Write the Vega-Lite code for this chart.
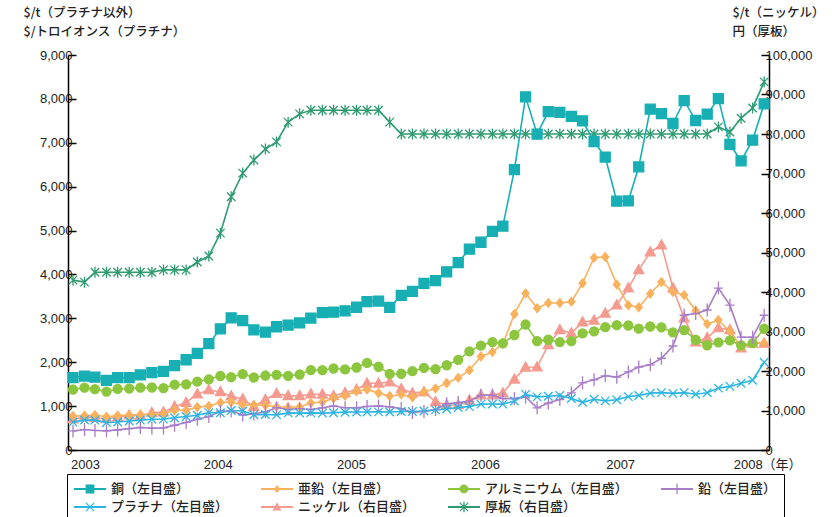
{
  "$schema": "https://vega.github.io/schema/vega-lite/v6.json",
  "width": 701,
  "height": 395,
  "autosize": {"type": "none"},
  "padding": {"left": 68, "top": 55, "right": 63, "bottom": 67},
  "background": "white",
  "config": {
    "font": "Liberation Sans, Noto Sans CJK JP",
    "view": {"stroke": null},
    "axis": {"grid": false}
  },
  "datasets": {
    "prices": [
      {"date":"2003-01-01","series":"銅（左目盛）","value":1648},{"date":"2003-02-01","series":"銅（左目盛）","value":1683},{"date":"2003-03-01","series":"銅（左目盛）","value":1660},{"date":"2003-04-01","series":"銅（左目盛）","value":1587},{"date":"2003-05-01","series":"銅（左目盛）","value":1647},{"date":"2003-06-01","series":"銅（左目盛）","value":1650},{"date":"2003-07-01","series":"銅（左目盛）","value":1713},{"date":"2003-08-01","series":"銅（左目盛）","value":1762},{"date":"2003-09-01","series":"銅（左目盛）","value":1792},{"date":"2003-10-01","series":"銅（左目盛）","value":1924},{"date":"2003-11-01","series":"銅（左目盛）","value":2056},{"date":"2003-12-01","series":"銅（左目盛）","value":2201},
      {"date":"2004-01-01","series":"銅（左目盛）","value":2423},{"date":"2004-02-01","series":"銅（左目盛）","value":2760},{"date":"2004-03-01","series":"銅（左目盛）","value":3010},{"date":"2004-04-01","series":"銅（左目盛）","value":2949},{"date":"2004-05-01","series":"銅（左目盛）","value":2737},{"date":"2004-06-01","series":"銅（左目盛）","value":2686},{"date":"2004-07-01","series":"銅（左目盛）","value":2808},{"date":"2004-08-01","series":"銅（左目盛）","value":2846},{"date":"2004-09-01","series":"銅（左目盛）","value":2895},{"date":"2004-10-01","series":"銅（左目盛）","value":3006},{"date":"2004-11-01","series":"銅（左目盛）","value":3129},{"date":"2004-12-01","series":"銅（左目盛）","value":3142},
      {"date":"2005-01-01","series":"銅（左目盛）","value":3170},{"date":"2005-02-01","series":"銅（左目盛）","value":3253},{"date":"2005-03-01","series":"銅（左目盛）","value":3379},{"date":"2005-04-01","series":"銅（左目盛）","value":3394},{"date":"2005-05-01","series":"銅（左目盛）","value":3249},{"date":"2005-06-01","series":"銅（左目盛）","value":3524},{"date":"2005-07-01","series":"銅（左目盛）","value":3614},{"date":"2005-08-01","series":"銅（左目盛）","value":3797},{"date":"2005-09-01","series":"銅（左目盛）","value":3857},{"date":"2005-10-01","series":"銅（左目盛）","value":4060},{"date":"2005-11-01","series":"銅（左目盛）","value":4270},{"date":"2005-12-01","series":"銅（左目盛）","value":4577},
      {"date":"2006-01-01","series":"銅（左目盛）","value":4734},{"date":"2006-02-01","series":"銅（左目盛）","value":4982},{"date":"2006-03-01","series":"銅（左目盛）","value":5102},{"date":"2006-04-01","series":"銅（左目盛）","value":6387},{"date":"2006-05-01","series":"銅（左目盛）","value":8046},{"date":"2006-06-01","series":"銅（左目盛）","value":7197},{"date":"2006-07-01","series":"銅（左目盛）","value":7711},{"date":"2006-08-01","series":"銅（左目盛）","value":7695},{"date":"2006-09-01","series":"銅（左目盛）","value":7602},{"date":"2006-10-01","series":"銅（左目盛）","value":7500},{"date":"2006-11-01","series":"銅（左目盛）","value":7029},{"date":"2006-12-01","series":"銅（左目盛）","value":6675},
      {"date":"2007-01-01","series":"銅（左目盛）","value":5670},{"date":"2007-02-01","series":"銅（左目盛）","value":5676},{"date":"2007-03-01","series":"銅（左目盛）","value":6452},{"date":"2007-04-01","series":"銅（左目盛）","value":7766},{"date":"2007-05-01","series":"銅（左目盛）","value":7662},{"date":"2007-06-01","series":"銅（左目盛）","value":7439},{"date":"2007-07-01","series":"銅（左目盛）","value":7959},{"date":"2007-08-01","series":"銅（左目盛）","value":7508},{"date":"2007-09-01","series":"銅（左目盛）","value":7653},{"date":"2007-10-01","series":"銅（左目盛）","value":8008},{"date":"2007-11-01","series":"銅（左目盛）","value":6965},{"date":"2007-12-01","series":"銅（左目盛）","value":6588},
      {"date":"2008-01-01","series":"銅（左目盛）","value":7061},{"date":"2008-02-01","series":"銅（左目盛）","value":7888},

      {"date":"2003-01-01","series":"亜鉛（左目盛）","value":777},{"date":"2003-02-01","series":"亜鉛（左目盛）","value":783},{"date":"2003-03-01","series":"亜鉛（左目盛）","value":795},{"date":"2003-04-01","series":"亜鉛（左目盛）","value":759},{"date":"2003-05-01","series":"亜鉛（左目盛）","value":784},{"date":"2003-06-01","series":"亜鉛（左目盛）","value":797},{"date":"2003-07-01","series":"亜鉛（左目盛）","value":809},{"date":"2003-08-01","series":"亜鉛（左目盛）","value":805},{"date":"2003-09-01","series":"亜鉛（左目盛）","value":827},{"date":"2003-10-01","series":"亜鉛（左目盛）","value":903},{"date":"2003-11-01","series":"亜鉛（左目盛）","value":907},{"date":"2003-12-01","series":"亜鉛（左目盛）","value":977},
      {"date":"2004-01-01","series":"亜鉛（左目盛）","value":1004},{"date":"2004-02-01","series":"亜鉛（左目盛）","value":1082},{"date":"2004-03-01","series":"亜鉛（左目盛）","value":1094},{"date":"2004-04-01","series":"亜鉛（左目盛）","value":1029},{"date":"2004-05-01","series":"亜鉛（左目盛）","value":1028},{"date":"2004-06-01","series":"亜鉛（左目盛）","value":1018},{"date":"2004-07-01","series":"亜鉛（左目盛）","value":985},{"date":"2004-08-01","series":"亜鉛（左目盛）","value":973},{"date":"2004-09-01","series":"亜鉛（左目盛）","value":982},{"date":"2004-10-01","series":"亜鉛（左目盛）","value":1070},{"date":"2004-11-01","series":"亜鉛（左目盛）","value":1095},{"date":"2004-12-01","series":"亜鉛（左目盛）","value":1180},
      {"date":"2005-01-01","series":"亜鉛（左目盛）","value":1236},{"date":"2005-02-01","series":"亜鉛（左目盛）","value":1338},{"date":"2005-03-01","series":"亜鉛（左目盛）","value":1380},{"date":"2005-04-01","series":"亜鉛（左目盛）","value":1296},{"date":"2005-05-01","series":"亜鉛（左目盛）","value":1228},{"date":"2005-06-01","series":"亜鉛（左目盛）","value":1265},{"date":"2005-07-01","series":"亜鉛（左目盛）","value":1203},{"date":"2005-08-01","series":"亜鉛（左目盛）","value":1324},{"date":"2005-09-01","series":"亜鉛（左目盛）","value":1400},{"date":"2005-10-01","series":"亜鉛（左目盛）","value":1524},{"date":"2005-11-01","series":"亜鉛（左目盛）","value":1644},{"date":"2005-12-01","series":"亜鉛（左目盛）","value":1817},
      {"date":"2006-01-01","series":"亜鉛（左目盛）","value":2133},{"date":"2006-02-01","series":"亜鉛（左目盛）","value":2232},{"date":"2006-03-01","series":"亜鉛（左目盛）","value":2419},{"date":"2006-04-01","series":"亜鉛（左目盛）","value":3100},{"date":"2006-05-01","series":"亜鉛（左目盛）","value":3570},{"date":"2006-06-01","series":"亜鉛（左目盛）","value":3230},{"date":"2006-07-01","series":"亜鉛（左目盛）","value":3350},{"date":"2006-08-01","series":"亜鉛（左目盛）","value":3350},{"date":"2006-09-01","series":"亜鉛（左目盛）","value":3380},{"date":"2006-10-01","series":"亜鉛（左目盛）","value":3800},{"date":"2006-11-01","series":"亜鉛（左目盛）","value":4380},{"date":"2006-12-01","series":"亜鉛（左目盛）","value":4400},
      {"date":"2007-01-01","series":"亜鉛（左目盛）","value":3770},{"date":"2007-02-01","series":"亜鉛（左目盛）","value":3300},{"date":"2007-03-01","series":"亜鉛（左目盛）","value":3250},{"date":"2007-04-01","series":"亜鉛（左目盛）","value":3560},{"date":"2007-05-01","series":"亜鉛（左目盛）","value":3830},{"date":"2007-06-01","series":"亜鉛（左目盛）","value":3600},{"date":"2007-07-01","series":"亜鉛（左目盛）","value":3530},{"date":"2007-08-01","series":"亜鉛（左目盛）","value":3180},{"date":"2007-09-01","series":"亜鉛（左目盛）","value":2870},{"date":"2007-10-01","series":"亜鉛（左目盛）","value":2960},{"date":"2007-11-01","series":"亜鉛（左目盛）","value":2700},{"date":"2007-12-01","series":"亜鉛（左目盛）","value":2350},
      {"date":"2008-01-01","series":"亜鉛（左目盛）","value":2440},{"date":"2008-02-01","series":"亜鉛（左目盛）","value":2440},

      {"date":"2003-01-01","series":"アルミニウム（左目盛）","value":1378},{"date":"2003-02-01","series":"アルミニウム（左目盛）","value":1420},{"date":"2003-03-01","series":"アルミニウム（左目盛）","value":1387},{"date":"2003-04-01","series":"アルミニウム（左目盛）","value":1331},{"date":"2003-05-01","series":"アルミニウム（左目盛）","value":1391},{"date":"2003-06-01","series":"アルミニウム（左目盛）","value":1400},{"date":"2003-07-01","series":"アルミニウム（左目盛）","value":1419},{"date":"2003-08-01","series":"アルミニウム（左目盛）","value":1424},{"date":"2003-09-01","series":"アルミニウム（左目盛）","value":1408},{"date":"2003-10-01","series":"アルミニウム（左目盛）","value":1489},{"date":"2003-11-01","series":"アルミニウム（左目盛）","value":1497},{"date":"2003-12-01","series":"アルミニウム（左目盛）","value":1559},
      {"date":"2004-01-01","series":"アルミニウム（左目盛）","value":1610},{"date":"2004-02-01","series":"アルミニウム（左目盛）","value":1686},{"date":"2004-03-01","series":"アルミニウム（左目盛）","value":1658},{"date":"2004-04-01","series":"アルミニウム（左目盛）","value":1730},{"date":"2004-05-01","series":"アルミニウム（左目盛）","value":1652},{"date":"2004-06-01","series":"アルミニウム（左目盛）","value":1697},{"date":"2004-07-01","series":"アルミニウム（左目盛）","value":1712},{"date":"2004-08-01","series":"アルミニウム（左目盛）","value":1690},{"date":"2004-09-01","series":"アルミニウム（左目盛）","value":1720},{"date":"2004-10-01","series":"アルミニウム（左目盛）","value":1820},{"date":"2004-11-01","series":"アルミニウム（左目盛）","value":1818},{"date":"2004-12-01","series":"アルミニウム（左目盛）","value":1857},
      {"date":"2005-01-01","series":"アルミニウム（左目盛）","value":1837},{"date":"2005-02-01","series":"アルミニウム（左目盛）","value":1880},{"date":"2005-03-01","series":"アルミニウム（左目盛）","value":1985},{"date":"2005-04-01","series":"アルミニウム（左目盛）","value":1897},{"date":"2005-05-01","series":"アルミニウム（左目盛）","value":1733},{"date":"2005-06-01","series":"アルミニウム（左目盛）","value":1737},{"date":"2005-07-01","series":"アルミニウム（左目盛）","value":1795},{"date":"2005-08-01","series":"アルミニウム（左目盛）","value":1870},{"date":"2005-09-01","series":"アルミニウム（左目盛）","value":1842},{"date":"2005-10-01","series":"アルミニウム（左目盛）","value":1931},{"date":"2005-11-01","series":"アルミニウム（左目盛）","value":2053},{"date":"2005-12-01","series":"アルミニウム（左目盛）","value":2247},
      {"date":"2006-01-01","series":"アルミニウム（左目盛）","value":2380},{"date":"2006-02-01","series":"アルミニウム（左目盛）","value":2460},{"date":"2006-03-01","series":"アルミニウム（左目盛）","value":2430},{"date":"2006-04-01","series":"アルミニウム（左目盛）","value":2620},{"date":"2006-05-01","series":"アルミニウム（左目盛）","value":2859},{"date":"2006-06-01","series":"アルミニウム（左目盛）","value":2481},{"date":"2006-07-01","series":"アルミニウム（左目盛）","value":2512},{"date":"2006-08-01","series":"アルミニウム（左目盛）","value":2459},{"date":"2006-09-01","series":"アルミニウム（左目盛）","value":2480},{"date":"2006-10-01","series":"アルミニウム（左目盛）","value":2657},{"date":"2006-11-01","series":"アルミニウム（左目盛）","value":2705},{"date":"2006-12-01","series":"アルミニウム（左目盛）","value":2798},
      {"date":"2007-01-01","series":"アルミニウム（左目盛）","value":2843},{"date":"2007-02-01","series":"アルミニウム（左目盛）","value":2837},{"date":"2007-03-01","series":"アルミニウム（左目盛）","value":2764},{"date":"2007-04-01","series":"アルミニウム（左目盛）","value":2814},{"date":"2007-05-01","series":"アルミニウム（左目盛）","value":2795},{"date":"2007-06-01","series":"アルミニウム（左目盛）","value":2680},{"date":"2007-07-01","series":"アルミニウム（左目盛）","value":2730},{"date":"2007-08-01","series":"アルミニウム（左目盛）","value":2512},{"date":"2007-09-01","series":"アルミニウム（左目盛）","value":2387},{"date":"2007-10-01","series":"アルミニウム（左目盛）","value":2451},{"date":"2007-11-01","series":"アルミニウム（左目盛）","value":2500},{"date":"2007-12-01","series":"アルミニウム（左目盛）","value":2385},
      {"date":"2008-01-01","series":"アルミニウム（左目盛）","value":2434},{"date":"2008-02-01","series":"アルミニウム（左目盛）","value":2767},

      {"date":"2003-01-01","series":"鉛（左目盛）","value":434},{"date":"2003-02-01","series":"鉛（左目盛）","value":466},{"date":"2003-03-01","series":"鉛（左目盛）","value":445},{"date":"2003-04-01","series":"鉛（左目盛）","value":437},{"date":"2003-05-01","series":"鉛（左目盛）","value":458},{"date":"2003-06-01","series":"鉛（左目盛）","value":488},{"date":"2003-07-01","series":"鉛（左目盛）","value":513},{"date":"2003-08-01","series":"鉛（左目盛）","value":497},{"date":"2003-09-01","series":"鉛（左目盛）","value":504},{"date":"2003-10-01","series":"鉛（左目盛）","value":564},{"date":"2003-11-01","series":"鉛（左目盛）","value":628},{"date":"2003-12-01","series":"鉛（左目盛）","value":700},
      {"date":"2004-01-01","series":"鉛（左目盛）","value":761},{"date":"2004-02-01","series":"鉛（左目盛）","value":884},{"date":"2004-03-01","series":"鉛（左目盛）","value":890},{"date":"2004-04-01","series":"鉛（左目盛）","value":798},{"date":"2004-05-01","series":"鉛（左目盛）","value":819},{"date":"2004-06-01","series":"鉛（左目盛）","value":871},{"date":"2004-07-01","series":"鉛（左目盛）","value":963},{"date":"2004-08-01","series":"鉛（左目盛）","value":926},{"date":"2004-09-01","series":"鉛（左目盛）","value":941},{"date":"2004-10-01","series":"鉛（左目盛）","value":923},{"date":"2004-11-01","series":"鉛（左目盛）","value":960},{"date":"2004-12-01","series":"鉛（左目盛）","value":1004},
      {"date":"2005-01-01","series":"鉛（左目盛）","value":964},{"date":"2005-02-01","series":"鉛（左目盛）","value":960},{"date":"2005-03-01","series":"鉛（左目盛）","value":992},{"date":"2005-04-01","series":"鉛（左目盛）","value":1002},{"date":"2005-05-01","series":"鉛（左目盛）","value":984},{"date":"2005-06-01","series":"鉛（左目盛）","value":943},{"date":"2005-07-01","series":"鉛（左目盛）","value":857},{"date":"2005-08-01","series":"鉛（左目盛）","value":880},{"date":"2005-09-01","series":"鉛（左目盛）","value":922},{"date":"2005-10-01","series":"鉛（左目盛）","value":1051},{"date":"2005-11-01","series":"鉛（左目盛）","value":1081},{"date":"2005-12-01","series":"鉛（左目盛）","value":1110},
      {"date":"2006-01-01","series":"鉛（左目盛）","value":1245},{"date":"2006-02-01","series":"鉛（左目盛）","value":1252},{"date":"2006-03-01","series":"鉛（左目盛）","value":1170},{"date":"2006-04-01","series":"鉛（左目盛）","value":1173},{"date":"2006-05-01","series":"鉛（左目盛）","value":1210},{"date":"2006-06-01","series":"鉛（左目盛）","value":960},{"date":"2006-07-01","series":"鉛（左目盛）","value":1070},{"date":"2006-08-01","series":"鉛（左目盛）","value":1150},{"date":"2006-09-01","series":"鉛（左目盛）","value":1300},{"date":"2006-10-01","series":"鉛（左目盛）","value":1530},{"date":"2006-11-01","series":"鉛（左目盛）","value":1600},{"date":"2006-12-01","series":"鉛（左目盛）","value":1690},
      {"date":"2007-01-01","series":"鉛（左目盛）","value":1660},{"date":"2007-02-01","series":"鉛（左目盛）","value":1780},{"date":"2007-03-01","series":"鉛（左目盛）","value":1890},{"date":"2007-04-01","series":"鉛（左目盛）","value":1940},{"date":"2007-05-01","series":"鉛（左目盛）","value":2090},{"date":"2007-06-01","series":"鉛（左目盛）","value":2370},{"date":"2007-07-01","series":"鉛（左目盛）","value":3070},{"date":"2007-08-01","series":"鉛（左目盛）","value":3110},{"date":"2007-09-01","series":"鉛（左目盛）","value":3190},{"date":"2007-10-01","series":"鉛（左目盛）","value":3690},{"date":"2007-11-01","series":"鉛（左目盛）","value":3300},{"date":"2007-12-01","series":"鉛（左目盛）","value":2570},
      {"date":"2008-01-01","series":"鉛（左目盛）","value":2570},{"date":"2008-02-01","series":"鉛（左目盛）","value":3070},

      {"date":"2003-01-01","series":"プラチナ（左目盛）","value":636},{"date":"2003-02-01","series":"プラチナ（左目盛）","value":682},{"date":"2003-03-01","series":"プラチナ（左目盛）","value":680},{"date":"2003-04-01","series":"プラチナ（左目盛）","value":625},{"date":"2003-05-01","series":"プラチナ（左目盛）","value":639},{"date":"2003-06-01","series":"プラチナ（左目盛）","value":661},{"date":"2003-07-01","series":"プラチナ（左目盛）","value":680},{"date":"2003-08-01","series":"プラチナ（左目盛）","value":702},{"date":"2003-09-01","series":"プラチナ（左目盛）","value":704},{"date":"2003-10-01","series":"プラチナ（左目盛）","value":733},{"date":"2003-11-01","series":"プラチナ（左目盛）","value":765},{"date":"2003-12-01","series":"プラチナ（左目盛）","value":790},
      {"date":"2004-01-01","series":"プラチナ（左目盛）","value":852},{"date":"2004-02-01","series":"プラチナ（左目盛）","value":849},{"date":"2004-03-01","series":"プラチナ（左目盛）","value":900},{"date":"2004-04-01","series":"プラチナ（左目盛）","value":887},{"date":"2004-05-01","series":"プラチナ（左目盛）","value":805},{"date":"2004-06-01","series":"プラチナ（左目盛）","value":808},{"date":"2004-07-01","series":"プラチナ（左目盛）","value":800},{"date":"2004-08-01","series":"プラチナ（左目盛）","value":845},{"date":"2004-09-01","series":"プラチナ（左目盛）","value":840},{"date":"2004-10-01","series":"プラチナ（左目盛）","value":845},{"date":"2004-11-01","series":"プラチナ（左目盛）","value":840},{"date":"2004-12-01","series":"プラチナ（左目盛）","value":849},
      {"date":"2005-01-01","series":"プラチナ（左目盛）","value":862},{"date":"2005-02-01","series":"プラチナ（左目盛）","value":866},{"date":"2005-03-01","series":"プラチナ（左目盛）","value":866},{"date":"2005-04-01","series":"プラチナ（左目盛）","value":868},{"date":"2005-05-01","series":"プラチナ（左目盛）","value":866},{"date":"2005-06-01","series":"プラチナ（左目盛）","value":878},{"date":"2005-07-01","series":"プラチナ（左目盛）","value":876},{"date":"2005-08-01","series":"プラチナ（左目盛）","value":890},{"date":"2005-09-01","series":"プラチナ（左目盛）","value":915},{"date":"2005-10-01","series":"プラチナ（左目盛）","value":935},{"date":"2005-11-01","series":"プラチナ（左目盛）","value":969},{"date":"2005-12-01","series":"プラチナ（左目盛）","value":988},
      {"date":"2006-01-01","series":"プラチナ（左目盛）","value":1046},{"date":"2006-02-01","series":"プラチナ（左目盛）","value":1047},{"date":"2006-03-01","series":"プラチナ（左目盛）","value":1045},{"date":"2006-04-01","series":"プラチナ（左目盛）","value":1115},{"date":"2006-05-01","series":"プラチナ（左目盛）","value":1267},{"date":"2006-06-01","series":"プラチナ（左目盛）","value":1211},{"date":"2006-07-01","series":"プラチナ（左目盛）","value":1226},{"date":"2006-08-01","series":"プラチナ（左目盛）","value":1244},{"date":"2006-09-01","series":"プラチナ（左目盛）","value":1175},{"date":"2006-10-01","series":"プラチナ（左目盛）","value":1087},{"date":"2006-11-01","series":"プラチナ（左目盛）","value":1155},{"date":"2006-12-01","series":"プラチナ（左目盛）","value":1120},
      {"date":"2007-01-01","series":"プラチナ（左目盛）","value":1144},{"date":"2007-02-01","series":"プラチナ（左目盛）","value":1216},{"date":"2007-03-01","series":"プラチナ（左目盛）","value":1241},{"date":"2007-04-01","series":"プラチナ（左目盛）","value":1296},{"date":"2007-05-01","series":"プラチナ（左目盛）","value":1307},{"date":"2007-06-01","series":"プラチナ（左目盛）","value":1290},{"date":"2007-07-01","series":"プラチナ（左目盛）","value":1307},{"date":"2007-08-01","series":"プラチナ（左目盛）","value":1270},{"date":"2007-09-01","series":"プラチナ（左目盛）","value":1303},{"date":"2007-10-01","series":"プラチナ（左目盛）","value":1410},{"date":"2007-11-01","series":"プラチナ（左目盛）","value":1449},{"date":"2007-12-01","series":"プラチナ（左目盛）","value":1520},
      {"date":"2008-01-01","series":"プラチナ（左目盛）","value":1590},{"date":"2008-02-01","series":"プラチナ（左目盛）","value":2000},

      {"date":"2003-01-01","series":"ニッケル（右目盛）","value":7820},{"date":"2003-02-01","series":"ニッケル（右目盛）","value":8360},{"date":"2003-03-01","series":"ニッケル（右目盛）","value":8150},{"date":"2003-04-01","series":"ニッケル（右目盛）","value":7880},{"date":"2003-05-01","series":"ニッケル（右目盛）","value":8270},{"date":"2003-06-01","series":"ニッケル（右目盛）","value":8810},{"date":"2003-07-01","series":"ニッケル（右目盛）","value":8670},{"date":"2003-08-01","series":"ニッケル（右目盛）","value":9440},{"date":"2003-09-01","series":"ニッケル（右目盛）","value":9580},{"date":"2003-10-01","series":"ニッケル（右目盛）","value":10980},{"date":"2003-11-01","series":"ニッケル（右目盛）","value":12030},{"date":"2003-12-01","series":"ニッケル（右目盛）","value":14150},
      {"date":"2004-01-01","series":"ニッケル（右目盛）","value":15200},{"date":"2004-02-01","series":"ニッケル（右目盛）","value":14700},{"date":"2004-03-01","series":"ニッケル（右目盛）","value":13640},{"date":"2004-04-01","series":"ニッケル（右目盛）","value":12880},{"date":"2004-05-01","series":"ニッケル（右目盛）","value":11000},{"date":"2004-06-01","series":"ニッケル（右目盛）","value":12780},{"date":"2004-07-01","series":"ニッケル（右目盛）","value":14270},{"date":"2004-08-01","series":"ニッケル（右目盛）","value":13700},{"date":"2004-09-01","series":"ニッケル（右目盛）","value":13740},{"date":"2004-10-01","series":"ニッケル（右目盛）","value":14130},{"date":"2004-11-01","series":"ニッケル（右目盛）","value":14100},{"date":"2004-12-01","series":"ニッケル（右目盛）","value":13740},
      {"date":"2005-01-01","series":"ニッケル（右目盛）","value":14470},{"date":"2005-02-01","series":"ニッケル（右目盛）","value":15290},{"date":"2005-03-01","series":"ニッケル（右目盛）","value":16900},{"date":"2005-04-01","series":"ニッケル（右目盛）","value":16900},{"date":"2005-05-01","series":"ニッケル（右目盛）","value":17200},{"date":"2005-06-01","series":"ニッケル（右目盛）","value":15500},{"date":"2005-07-01","series":"ニッケル（右目盛）","value":14400},{"date":"2005-08-01","series":"ニッケル（右目盛）","value":14700},{"date":"2005-09-01","series":"ニッケル（右目盛）","value":12200},{"date":"2005-10-01","series":"ニッケル（右目盛）","value":11400},{"date":"2005-11-01","series":"ニッケル（右目盛）","value":11400},{"date":"2005-12-01","series":"ニッケル（右目盛）","value":12600},
      {"date":"2006-01-01","series":"ニッケル（右目盛）","value":13900},{"date":"2006-02-01","series":"ニッケル（右目盛）","value":13900},{"date":"2006-03-01","series":"ニッケル（右目盛）","value":14400},{"date":"2006-04-01","series":"ニッケル（右目盛）","value":17900},{"date":"2006-05-01","series":"ニッケル（右目盛）","value":20950},{"date":"2006-06-01","series":"ニッケル（右目盛）","value":21000},{"date":"2006-07-01","series":"ニッケル（右目盛）","value":26600},{"date":"2006-08-01","series":"ニッケル（右目盛）","value":30400},{"date":"2006-09-01","series":"ニッケル（右目盛）","value":29600},{"date":"2006-10-01","series":"ニッケル（右目盛）","value":32400},{"date":"2006-11-01","series":"ニッケル（右目盛）","value":32800},{"date":"2006-12-01","series":"ニッケル（右目盛）","value":34600},
      {"date":"2007-01-01","series":"ニッケル（右目盛）","value":36700},{"date":"2007-02-01","series":"ニッケル（右目盛）","value":41000},{"date":"2007-03-01","series":"ニッケル（右目盛）","value":45600},{"date":"2007-04-01","series":"ニッケル（右目盛）","value":50100},{"date":"2007-05-01","series":"ニッケル（右目盛）","value":51900},{"date":"2007-06-01","series":"ニッケル（右目盛）","value":41000},{"date":"2007-07-01","series":"ニッケル（右目盛）","value":33400},{"date":"2007-08-01","series":"ニッケル（右目盛）","value":27300},{"date":"2007-09-01","series":"ニッケル（右目盛）","value":28400},{"date":"2007-10-01","series":"ニッケル（右目盛）","value":30900},{"date":"2007-11-01","series":"ニッケル（右目盛）","value":30400},{"date":"2007-12-01","series":"ニッケル（右目盛）","value":25800},
      {"date":"2008-01-01","series":"ニッケル（右目盛）","value":27000},{"date":"2008-02-01","series":"ニッケル（右目盛）","value":27000},

      {"date":"2003-01-01","series":"厚板（右目盛）","value":43000},{"date":"2003-02-01","series":"厚板（右目盛）","value":42500},{"date":"2003-03-01","series":"厚板（右目盛）","value":45000},{"date":"2003-04-01","series":"厚板（右目盛）","value":45000},{"date":"2003-05-01","series":"厚板（右目盛）","value":45000},{"date":"2003-06-01","series":"厚板（右目盛）","value":45000},{"date":"2003-07-01","series":"厚板（右目盛）","value":45000},{"date":"2003-08-01","series":"厚板（右目盛）","value":45000},{"date":"2003-09-01","series":"厚板（右目盛）","value":45600},{"date":"2003-10-01","series":"厚板（右目盛）","value":45600},{"date":"2003-11-01","series":"厚板（右目盛）","value":45600},{"date":"2003-12-01","series":"厚板（右目盛）","value":47600},
      {"date":"2004-01-01","series":"厚板（右目盛）","value":49100},{"date":"2004-02-01","series":"厚板（右目盛）","value":54900},{"date":"2004-03-01","series":"厚板（右目盛）","value":64100},{"date":"2004-04-01","series":"厚板（右目盛）","value":70100},{"date":"2004-05-01","series":"厚板（右目盛）","value":73400},{"date":"2004-06-01","series":"厚板（右目盛）","value":76200},{"date":"2004-07-01","series":"厚板（右目盛）","value":78000},{"date":"2004-08-01","series":"厚板（右目盛）","value":83000},{"date":"2004-09-01","series":"厚板（右目盛）","value":85100},{"date":"2004-10-01","series":"厚板（右目盛）","value":86000},{"date":"2004-11-01","series":"厚板（右目盛）","value":86000},{"date":"2004-12-01","series":"厚板（右目盛）","value":86000},
      {"date":"2005-01-01","series":"厚板（右目盛）","value":86000},{"date":"2005-02-01","series":"厚板（右目盛）","value":86000},{"date":"2005-03-01","series":"厚板（右目盛）","value":86000},{"date":"2005-04-01","series":"厚板（右目盛）","value":86000},{"date":"2005-05-01","series":"厚板（右目盛）","value":83000},{"date":"2005-06-01","series":"厚板（右目盛）","value":80000},{"date":"2005-07-01","series":"厚板（右目盛）","value":80000},{"date":"2005-08-01","series":"厚板（右目盛）","value":80000},{"date":"2005-09-01","series":"厚板（右目盛）","value":80000},{"date":"2005-10-01","series":"厚板（右目盛）","value":80000},{"date":"2005-11-01","series":"厚板（右目盛）","value":80000},{"date":"2005-12-01","series":"厚板（右目盛）","value":80000},
      {"date":"2006-01-01","series":"厚板（右目盛）","value":80000},{"date":"2006-02-01","series":"厚板（右目盛）","value":80000},{"date":"2006-03-01","series":"厚板（右目盛）","value":80000},{"date":"2006-04-01","series":"厚板（右目盛）","value":80000},{"date":"2006-05-01","series":"厚板（右目盛）","value":80000},{"date":"2006-06-01","series":"厚板（右目盛）","value":80000},{"date":"2006-07-01","series":"厚板（右目盛）","value":80000},{"date":"2006-08-01","series":"厚板（右目盛）","value":80000},{"date":"2006-09-01","series":"厚板（右目盛）","value":80000},{"date":"2006-10-01","series":"厚板（右目盛）","value":80000},{"date":"2006-11-01","series":"厚板（右目盛）","value":80000},{"date":"2006-12-01","series":"厚板（右目盛）","value":80000},
      {"date":"2007-01-01","series":"厚板（右目盛）","value":80000},{"date":"2007-02-01","series":"厚板（右目盛）","value":80000},{"date":"2007-03-01","series":"厚板（右目盛）","value":80000},{"date":"2007-04-01","series":"厚板（右目盛）","value":80000},{"date":"2007-05-01","series":"厚板（右目盛）","value":80000},{"date":"2007-06-01","series":"厚板（右目盛）","value":80000},{"date":"2007-07-01","series":"厚板（右目盛）","value":80000},{"date":"2007-08-01","series":"厚板（右目盛）","value":80000},{"date":"2007-09-01","series":"厚板（右目盛）","value":80000},{"date":"2007-10-01","series":"厚板（右目盛）","value":81800},{"date":"2007-11-01","series":"厚板（右目盛）","value":80500},{"date":"2007-12-01","series":"厚板（右目盛）","value":84000},
      {"date":"2008-01-01","series":"厚板（右目盛）","value":86600},{"date":"2008-02-01","series":"厚板（右目盛）","value":93200}
    ]
  },
  "data": {"name": "prices"},
  "encoding": {
    "x": {
      "field": "date",
      "type": "temporal",
      "scale": {
        "type": "utc",
        "domain": [
          {"year": 2002, "month": 12, "date": 18, "hours": 14, "utc": true},
          {"year": 2008, "month": 2, "date": 14, "utc": true}
        ]
      },
      "axis": {
        "title": null,
        "grid": false,
        "ticks": false,
        "domainColor": "#000000",
        "domainWidth": 1.5,
        "labelFontSize": 13,
        "labelColor": "#222222",
        "labelPadding": 8,
        "labelFlush": false,
        "labelOverlap": false,
        "values": [
          {"year": 2003, "month": 2, "date": 2, "utc": true},
          {"year": 2004, "month": 1, "date": 25, "utc": true},
          {"year": 2005, "month": 1, "date": 17, "utc": true},
          {"year": 2006, "month": 1, "date": 12, "utc": true},
          {"year": 2007, "month": 1, "date": 10, "utc": true},
          {"year": 2008, "month": 2, "date": 9, "utc": true}
        ],
        "labelExpr": "utcyear(datum.value) == 2008 ? '2008（年）' : utcFormat(datum.value, '%Y')"
      }
    }
  },
  "layer": [
    {
      "transform": [{"filter": {"field": "series", "oneOf": ["ニッケル（右目盛）", "厚板（右目盛）"]}}],
      "mark": {"type": "line", "strokeWidth": 1.6},
      "encoding": {
        "y": {
          "field": "value", "type": "quantitative",
          "scale": {"domain": [0, 100000], "nice": false, "zero": true},
          "axis": {
            "orient": "right",
            "values": [0, 10000, 20000, 30000, 40000, 50000, 60000, 70000, 80000, 90000, 100000],
            "format": ",d",
            "grid": false,
            "domainColor": "#000000", "domainWidth": 1.5,
            "tickColor": "#000000", "tickWidth": 1.5, "tickSize": -8,
            "labelPadding": 4,
            "labelFontSize": 13, "labelColor": "#222222",
            "title": ["$/t（ニッケル）", "円（厚板）"],
            "titleAngle": 0, "titleAlign": "left", "titleBaseline": "top",
            "titleX": -37, "titleY": -49,
            "titleFont": "Noto Sans CJK JP", "titleFontSize": 12.5, "titleFontWeight": 500,
            "titleLineHeight": 19, "titleColor": "#222222"
          }
        },
        "color": {
          "field": "series", "type": "nominal",
          "scale": {"domain": ["ニッケル（右目盛）", "厚板（右目盛）"], "range": ["#F59A8F", "#2E9B70"]},
          "legend": null
        }
      }
    },
    {
      "transform": [{"filter": {"field": "series", "oneOf": ["ニッケル（右目盛）", "厚板（右目盛）"]}}],
      "mark": {"type": "point", "filled": true, "size": 100, "strokeWidth": 1.3, "opacity": 1},
      "encoding": {
        "y": {"field": "value", "type": "quantitative", "scale": {"domain": [0, 100000], "nice": false}, "axis": null},
        "fill": {
          "field": "series", "type": "nominal",
          "scale": {"domain": ["ニッケル（右目盛）", "厚板（右目盛）"], "range": ["#F59A8F", "#2E9B70"]},
          "legend": null
        },
        "stroke": {
          "field": "series", "type": "nominal",
          "scale": {"domain": ["ニッケル（右目盛）", "厚板（右目盛）"], "range": ["#F59A8F", "#2E9B70"]},
          "legend": null
        },
        "shape": {
          "field": "series", "type": "nominal",
          "scale": {"domain": ["ニッケル（右目盛）", "厚板（右目盛）"], "range": [
            "M0,-1.05L1,0.75H-1Z",
            "M-0.85,-0.85L0.85,0.85M-0.85,0.85L0.85,-0.85M0,-1.1V1.1"
          ]},
          "legend": null
        }
      }
    },
    {
      "transform": [{"filter": {"field": "series", "oneOf": ["銅（左目盛）", "亜鉛（左目盛）", "アルミニウム（左目盛）", "鉛（左目盛）", "プラチナ（左目盛）"]}}],
      "mark": {"type": "line", "strokeWidth": 1.6},
      "encoding": {
        "y": {
          "field": "value", "type": "quantitative",
          "scale": {"domain": [0, 9000], "nice": false, "zero": true},
          "axis": {
            "orient": "left",
            "values": [0, 1000, 2000, 3000, 4000, 5000, 6000, 7000, 8000, 9000],
            "format": ",d",
            "grid": false,
            "domainColor": "#000000", "domainWidth": 1.5,
            "tickColor": "#000000", "tickWidth": 1.5, "tickSize": -8,
            "labelPadding": 4,
            "labelFontSize": 13, "labelColor": "#222222",
            "title": ["$/t（プラチナ以外）", "$/トロイオンス（プラチナ）"],
            "titleAngle": 0, "titleAlign": "left", "titleBaseline": "top",
            "titleX": -45, "titleY": -49,
            "titleFont": "Noto Sans CJK JP", "titleFontSize": 12.5, "titleFontWeight": 500,
            "titleLineHeight": 19, "titleColor": "#222222"
          }
        },
        "color": {
          "field": "series", "type": "nominal",
          "scale": {"domain": ["銅（左目盛）", "亜鉛（左目盛）", "アルミニウム（左目盛）", "鉛（左目盛）", "プラチナ（左目盛）"], "range": ["#17AFB3", "#F9B15E", "#8CC63E", "#A87DC8", "#2AB5E2"]},
          "legend": null
        }
      }
    },
    {
      "transform": [{"filter": {"field": "series", "oneOf": ["銅（左目盛）", "亜鉛（左目盛）", "アルミニウム（左目盛）", "鉛（左目盛）", "プラチナ（左目盛）"]}}],
      "mark": {"type": "point", "filled": true, "size": 100, "strokeWidth": 1.3, "opacity": 1},
      "encoding": {
        "y": {"field": "value", "type": "quantitative", "scale": {"domain": [0, 9000], "nice": false}, "axis": null},
        "fill": {
          "field": "series", "type": "nominal",
          "scale": {"domain": ["銅（左目盛）", "亜鉛（左目盛）", "アルミニウム（左目盛）", "鉛（左目盛）", "プラチナ（左目盛）"], "range": ["#17AFB3", "#F9B15E", "#8CC63E", "#A87DC8", "#2AB5E2"]},
          "legend": null
        },
        "stroke": {
          "field": "series", "type": "nominal",
          "scale": {"domain": ["銅（左目盛）", "亜鉛（左目盛）", "アルミニウム（左目盛）", "鉛（左目盛）", "プラチナ（左目盛）"], "range": ["#17AFB3", "#F9B15E", "#8CC63E", "#A87DC8", "#2AB5E2"]},
          "legend": null
        },
        "shape": {
          "field": "series", "type": "nominal",
          "scale": {"domain": ["銅（左目盛）", "亜鉛（左目盛）", "アルミニウム（左目盛）", "鉛（左目盛）", "プラチナ（左目盛）"], "range": [
            "M-1,-1H1V1H-1Z",
            "M0,-0.85L0.7,0L0,0.85L-0.7,0Z",
            "M-0.9,0A0.9,0.9 0 1,1 0.9,0A0.9,0.9 0 1,1 -0.9,0Z",
            "M-0.9,0H0.9M0,-1.3V1.3",
            "M-0.85,-0.85L0.85,0.85M-0.85,0.85L0.85,-0.85"
          ]},
          "legend": null
        }
      }
    },
    {
      "mark": {"type": "point", "filled": true, "opacity": 0, "size": 10},
      "encoding": {
        "y": {"field": "value", "type": "quantitative", "scale": {"domain": [0, 100000], "nice": false}, "axis": null},
        "color": {
          "field": "series", "type": "nominal",
          "scale": {"domain": ["銅（左目盛）", "亜鉛（左目盛）", "アルミニウム（左目盛）", "鉛（左目盛）", "プラチナ（左目盛）", "ニッケル（右目盛）", "厚板（右目盛）"], "range": ["#17AFB3", "#F9B15E", "#8CC63E", "#A87DC8", "#2AB5E2", "#F59A8F", "#2E9B70"]},
          "legend": {
            "orient": "none", "legendX": -1, "legendY": 419,
            "direction": "horizontal", "columns": 4, "title": null,
            "strokeColor": "#000000", "padding": 7,
            "columnPadding": 32, "rowPadding": 3,
            "symbolSize": 256, "symbolStrokeWidth": 0, "symbolOpacity": 1,
            "labelFont": "Noto Sans CJK JP", "labelFontSize": 13, "labelColor": "#222222", "labelFontWeight": 500,
            "labelOffset": 21, "labelLimit": 300
          }
        },
        "shape": {
          "field": "series", "type": "nominal",
          "scale": {"domain": ["銅（左目盛）", "亜鉛（左目盛）", "アルミニウム（左目盛）", "鉛（左目盛）", "プラチナ（左目盛）", "ニッケル（右目盛）", "厚板（右目盛）"], "range": [
            "M-1,-0.12H3V0.12H-1Z M0.45,-0.55H1.55V0.55H0.45Z",
            "M-1,-0.12H3V0.12H-1Z M1,-0.5L1.4,0L1,0.5L0.6,0Z",
            "M-1,-0.12H3V0.12H-1Z M0.45,0A0.55,0.55 0 1,1 1.55,0A0.55,0.55 0 1,1 0.45,0Z",
            "M-1,-0.12H3V0.12H-1Z M0.92,-0.65H1.08V0.65H0.92Z",
            "M-1,-0.12H3V0.12H-1Z M0.44,-0.46L0.54,-0.56L1.56,0.46L1.46,0.56Z M0.44,0.46L1.46,-0.56L1.56,-0.46L0.54,0.56Z",
            "M-1,-0.12H3V0.12H-1Z M1,-0.6L1.55,0.45H0.45Z",
            "M-1,-0.12H3V0.12H-1Z M0.44,-0.46L0.54,-0.56L1.56,0.46L1.46,0.56Z M0.44,0.46L1.46,-0.56L1.56,-0.46L0.54,0.56Z M0.92,-0.65H1.08V0.65H0.92Z"
          ]},
          "legend": {
            "orient": "none", "legendX": -1, "legendY": 419,
            "direction": "horizontal", "columns": 4, "title": null,
            "strokeColor": "#000000", "padding": 7,
            "columnPadding": 32, "rowPadding": 3,
            "symbolSize": 256, "symbolStrokeWidth": 0, "symbolOpacity": 1,
            "labelFont": "Noto Sans CJK JP", "labelFontSize": 13, "labelColor": "#222222", "labelFontWeight": 500,
            "labelOffset": 21, "labelLimit": 300
          }
        }
      }
    }
  ],
  "resolve": {
    "scale": {"y": "independent", "color": "independent", "fill": "independent", "stroke": "independent", "shape": "independent"},
    "axis": {"y": "independent"}
  }
}
